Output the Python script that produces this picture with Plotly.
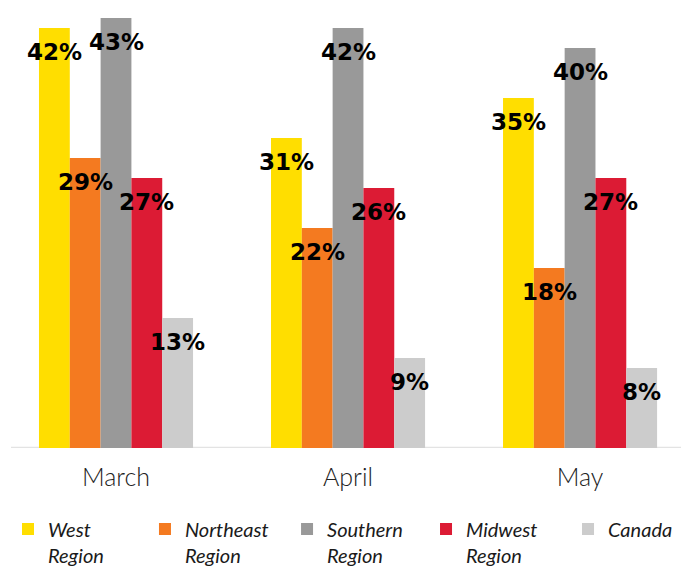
import plotly.graph_objects as go

months = ["March", "April", "May"]
series_names = ["West<br>Region", "Northeast<br>Region", "Southern<br>Region", "Midwest<br>Region", "Canada"]
west = [42, 31, 35]
northeast = [29, 22, 18]
southern = [43, 42, 40]
midwest = [27, 26, 27]
canada = [13, 9, 8]
colors = ["#FFDE00", "#F47A20", "#999999", "#DC1B34", "#CCCCCC"]

BARGAP = 0.336
all_series = [west, northeast, southern, midwest, canada]
n = len(all_series)
bw = (1 - BARGAP) / n
legend_x = [-0.0058, 0.1988, 0.405, 0.6067, 0.8128]
legend_ids = ["legend", "legend2", "legend3", "legend4", "legend5"]

fig = go.Figure()
annotations = []
for i, (name, vals, col) in enumerate(zip(series_names, all_series, colors)):
    fig.add_trace(go.Bar(
        x=list(range(len(months))), y=vals, name=name,
        marker=dict(color=col, line=dict(width=0)),
        legend=legend_ids[i],
    ))
    off = (i - (n - 1) / 2) * bw
    for j, v in enumerate(vals):
        annotations.append(dict(
            x=j + off, y=v, xref="x", yref="y", text=f"{v}%", showarrow=False,
            yshift=-24, xanchor="center", yanchor="middle",
            font=dict(family="DejaVu Sans", size=23, color="black", weight="bold"),
        ))

legend_common = dict(orientation="h", y=0.117, xref="container", yref="container",
                     xanchor="left", yanchor="top", valign="top",
                     font=dict(family="Lato", size=20, color="#1a1a1a", style="italic", weight=400),
                     itemwidth=30, bgcolor="rgba(0,0,0,0)")
legends = {lid: dict(legend_common, x=lx) for lid, lx in zip(legend_ids, legend_x)}

fig.update_layout(
    width=689, height=568,
    margin=dict(l=0, r=0, t=0, b=128, autoexpand=False),
    paper_bgcolor="white", plot_bgcolor="white",
    barmode="group", bargap=BARGAP, bargroupgap=0,
    showlegend=True,
    xaxis=dict(range=[-0.4655, 2.504], showline=False, ticks="", showgrid=False,
               tickmode="array", tickvals=list(range(len(months))), ticktext=months,
               tickfont=dict(family="Lato", size=25, color="#222", weight=300),
               ticklabelstandoff=12),
    yaxis=dict(range=[0, 44], visible=False, showgrid=False, zeroline=False),
    annotations=annotations,
    shapes=[dict(type="line", xref="paper", yref="y", x0=0.0044, x1=1, y0=0, y1=0,
                 line=dict(color="#E3E3E3", width=2.5), layer="below")],
    **legends,
)

fig.write_html("out.html")
